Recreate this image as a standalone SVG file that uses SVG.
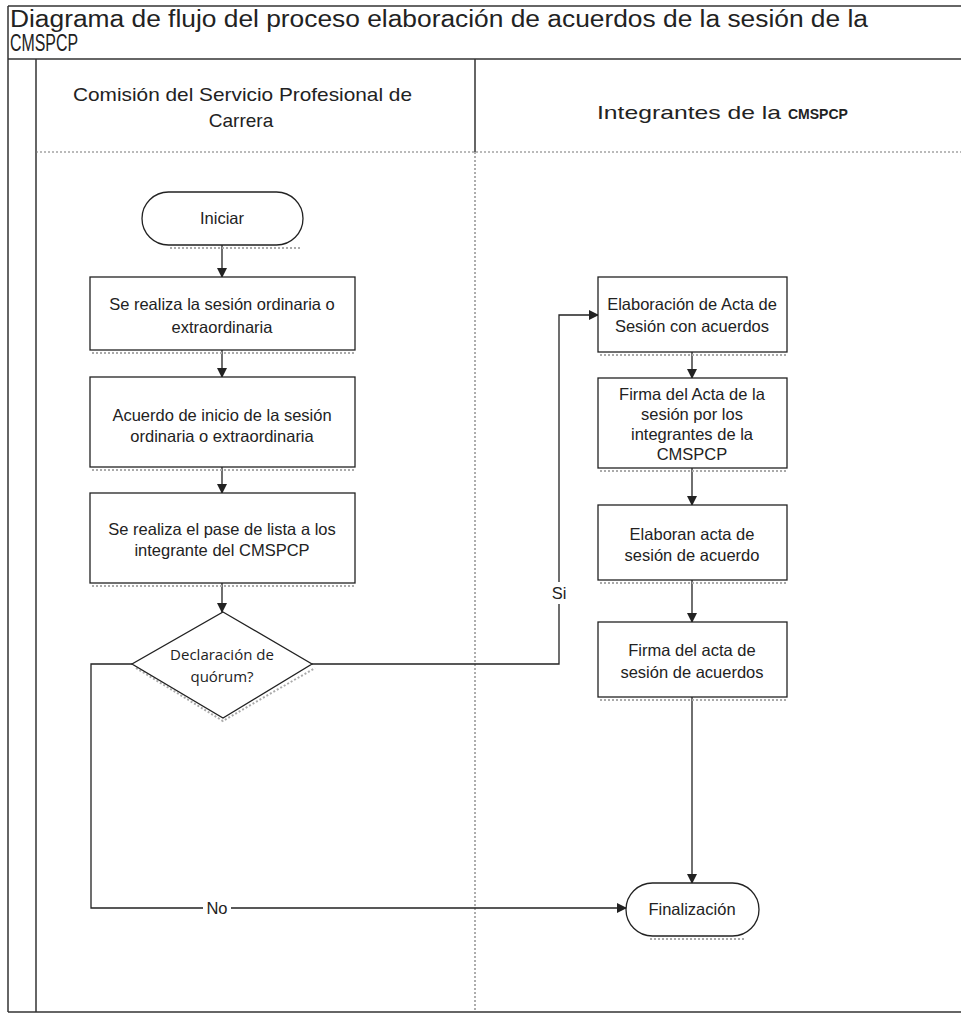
<svg xmlns="http://www.w3.org/2000/svg" width="961" height="1015" viewBox="0 0 961 1015">
<style>
.frame{fill:none;stroke:#333;stroke-width:1.5}
.dot{fill:none;stroke:#777;stroke-width:1.2;stroke-dasharray:2 2}
.node{fill:#fff;stroke:#222;stroke-width:1.3}
.shadow{fill:none;stroke:#aaa;stroke-width:2;stroke-dasharray:2 2}
.t{font-family:"Liberation Sans",Arial,sans-serif;font-size:16.5px;fill:#222;text-anchor:middle}
.d{font-family:"Open Sans","Noto Sans",sans-serif;font-size:15px;fill:#222;text-anchor:middle}
.h{font-family:"Liberation Sans",Arial,sans-serif;font-size:19px;fill:#222}
.title{font-family:"Liberation Sans",Arial,sans-serif;font-size:23px;fill:#222}
.conn{fill:none;stroke:#222;stroke-width:1.3}
</style>
<defs>
<marker id="arr" markerWidth="10" markerHeight="10" refX="9" refY="5" orient="auto" markerUnits="userSpaceOnUse">
<path d="M0,0 L10,5 L0,10 z" fill="#222"/>
</marker>
</defs>
<rect width="961" height="1015" fill="#fff"/>
<g id="frame">
<line class="frame" x1="8" y1="6" x2="961" y2="6"/>
<line class="frame" x1="8" y1="6" x2="8" y2="1012"/>
<line class="frame" x1="8" y1="59" x2="961" y2="59"/>
<line class="frame" x1="36" y1="59" x2="36" y2="1012"/>
<line class="frame" x1="8" y1="1012" x2="961" y2="1012"/>
<line class="frame" x1="475" y1="59" x2="475" y2="152"/>
<line class="dot" x1="475" y1="152" x2="475" y2="1012"/>
<line class="dot" x1="36" y1="152" x2="961" y2="152"/>
<text class="title" x="10" y="27" textLength="858" lengthAdjust="spacingAndGlyphs">Diagrama de flujo del proceso elaboración de acuerdos de la sesión de la</text>
<text class="title" x="10" y="51" textLength="68" lengthAdjust="spacingAndGlyphs">CMSPCP</text>
<text class="h" x="73" y="101" textLength="339" lengthAdjust="spacingAndGlyphs">Comisión del Servicio Profesional de</text>
<text class="h" x="241" y="127" text-anchor="middle">Carrera</text>
<text class="h" x="597" y="119" textLength="184" lengthAdjust="spacingAndGlyphs">Integrantes de la</text>
<text x="788" y="119" font-family="Liberation Sans,Arial,sans-serif" font-size="14" font-weight="bold" fill="#222">CMSPCP</text>
</g>
<g id="connectors">
<line class="conn" x1="222" y1="245" x2="222" y2="277" marker-end="url(#arr)"/>
<line class="conn" x1="222" y1="350" x2="222" y2="377" marker-end="url(#arr)"/>
<line class="conn" x1="222" y1="467" x2="222" y2="493" marker-end="url(#arr)"/>
<line class="conn" x1="222" y1="583" x2="222" y2="612" marker-end="url(#arr)"/>
<polyline class="conn" points="312,664 559,664 559,315 598,315" marker-end="url(#arr)"/>
<polyline class="conn" points="132,664 91,664 91,908 626,908" marker-end="url(#arr)"/>
<line class="conn" x1="692" y1="352" x2="692" y2="378" marker-end="url(#arr)"/>
<line class="conn" x1="692" y1="468" x2="692" y2="505" marker-end="url(#arr)"/>
<line class="conn" x1="692" y1="580" x2="692" y2="622" marker-end="url(#arr)"/>
<line class="conn" x1="692" y1="697" x2="692" y2="883" marker-end="url(#arr)"/>
<rect x="551" y="582" width="16" height="22" fill="#fff"/>
<text class="t" x="559" y="599">Si</text>
<rect x="203" y="897" width="28" height="22" fill="#fff"/>
<text class="t" x="217" y="914">No</text>
</g>
<g id="n-iniciar">
<path class="shadow" d="M170,248 H300"/>
<rect class="node" x="142" y="192" width="161" height="53" rx="26.5"/>
<text class="t" x="222" y="224">Iniciar</text>
</g>
<g id="n-sesion">
<path class="shadow" d="M92,353 H356"/>
<rect class="node" x="90" y="277" width="265" height="73"/>
<text class="t" x="222" y="310">Se realiza la sesión ordinaria o</text>
<text class="t" x="222" y="333">extraordinaria</text>
</g>
<g id="n-acuerdo">
<path class="shadow" d="M92,470 H356"/>
<rect class="node" x="90" y="377" width="265" height="90"/>
<text class="t" x="222" y="421">Acuerdo de inicio de la sesión</text>
<text class="t" x="222" y="442">ordinaria o extraordinaria</text>
</g>
<g id="n-lista">
<path class="shadow" d="M92,586 H356"/>
<rect class="node" x="90" y="493" width="265" height="90"/>
<text class="t" x="222" y="535">Se realiza el pase de lista a los</text>
<text class="t" x="222" y="556">integrante del CMSPCP</text>
</g>
<g id="n-quorum">
<path class="shadow" d="M136,668 L223,721 L315,668"/>
<polygon class="node" points="223,612 312,664 223,718 132,664"/>
<text class="d" x="222" y="660">Declaración de</text>
<text class="d" x="222" y="682">quórum?</text>
</g>
<g id="n-elaboracion">
<path class="shadow" d="M600,355 H788"/>
<rect class="node" x="598" y="277" width="189" height="75"/>
<text class="t" x="692" y="310">Elaboración de Acta de</text>
<text class="t" x="692" y="332">Sesión con acuerdos</text>
</g>
<g id="n-firma-acta">
<path class="shadow" d="M600,471 H788"/>
<rect class="node" x="598" y="378" width="189" height="90"/>
<text class="t" x="692" y="400">Firma del Acta de la</text>
<text class="t" x="692" y="420">sesión por los</text>
<text class="t" x="692" y="440">integrantes de la</text>
<text class="t" x="692" y="460">CMSPCP</text>
</g>
<g id="n-elaboran">
<path class="shadow" d="M600,583 H788"/>
<rect class="node" x="598" y="505" width="189" height="75"/>
<text class="t" x="692" y="540">Elaboran acta de</text>
<text class="t" x="692" y="561">sesión de acuerdo</text>
</g>
<g id="n-firma-acuerdos">
<path class="shadow" d="M600,700 H788"/>
<rect class="node" x="598" y="622" width="189" height="75"/>
<text class="t" x="692" y="656">Firma del acta de</text>
<text class="t" x="692" y="678">sesión de acuerdos</text>
</g>
<g id="n-fin">
<path class="shadow" d="M650,939 H745"/>
<rect class="node" x="626" y="883" width="133" height="53" rx="26.5"/>
<text class="t" x="692" y="915">Finalización</text>
</g>
</svg>
